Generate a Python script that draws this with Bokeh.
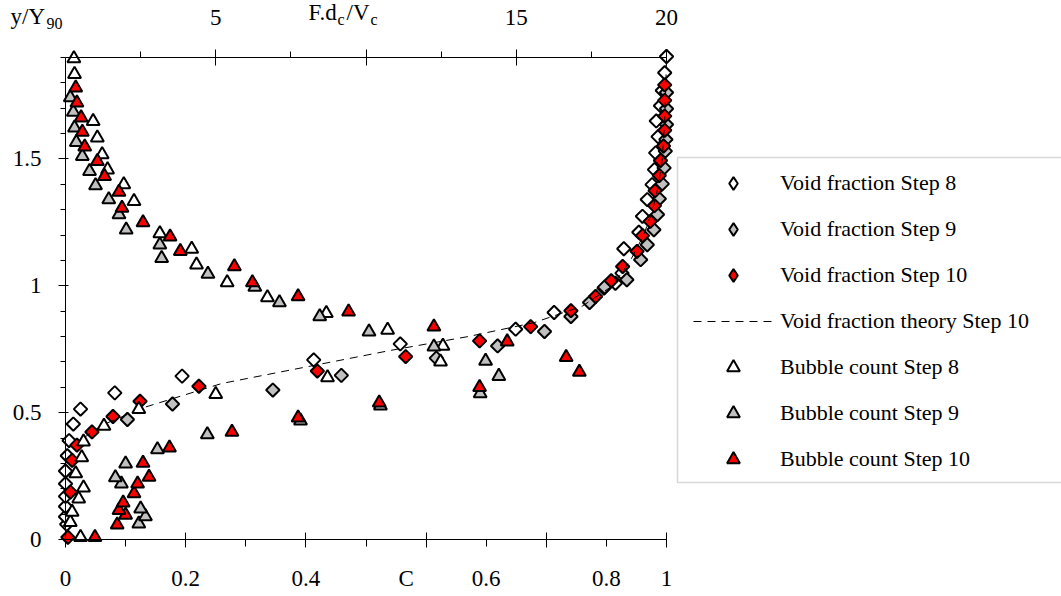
import math
from bokeh.plotting import figure
from bokeh.models import (Range1d, LinearAxis, FixedTicker, CustomJSTickFormatter,
                          NumeralTickFormatter, Legend, LegendItem, Label, PolyAnnotation)
from bokeh.embed import file_html
from bokeh.resources import INLINE

# ---------------- data (C, y/Y90) ----------------
vf8_c = [0.002, 0.0, 0.0, 0.0, 0.0, 0.0, 0.003, 0.006, 0.013, 0.025, 0.082, 0.194, 0.413, 0.557,
         0.749, 0.813, 0.896, 0.915, 0.926, 0.929, 0.954, 0.960, 0.968, 0.976, 0.980, 0.982,
         0.986, 0.983, 0.990, 0.993, 0.997, 1.0]
vf8_y = [0.06, 0.09, 0.13, 0.17, 0.22, 0.27, 0.33, 0.39, 0.455, 0.514, 0.578, 0.644, 0.708, 0.771,
         0.829, 0.895, 0.991, 1.01, 1.05, 1.146, 1.211, 1.274, 1.340, 1.399, 1.458, 1.524,
         1.588, 1.650, 1.71, 1.77, 1.840, 1.904]

vf9_c = [0.103, 0.178, 0.345, 0.459, 0.617, 0.719, 0.797, 0.841, 0.872, 0.897, 0.934, 0.957,
         0.968, 0.979, 0.985, 0.988, 0.993, 0.996, 0.998, 0.999, 1.0, 1.0, 1.0]
vf9_y = [0.473, 0.534, 0.589, 0.647, 0.715, 0.763, 0.820, 0.879, 0.934, 0.995, 1.024, 1.103,
         1.162, 1.221, 1.281, 1.343, 1.402, 1.465, 1.531, 1.577, 1.636, 1.698, 1.762]

vf10_c = [0.004, 0.008, 0.011, 0.019, 0.044, 0.079, 0.124, 0.222, 0.419, 0.566, 0.689, 0.774,
          0.841, 0.882, 0.908, 0.927, 0.951, 0.960, 0.973, 0.980, 0.981, 0.988, 0.990, 0.995,
          0.997, 0.997, 0.997, 0.997]
vf10_y = [0.009, 0.187, 0.312, 0.372, 0.424, 0.485, 0.545, 0.604, 0.664, 0.721, 0.783, 0.839,
          0.902, 0.958, 1.020, 1.076, 1.136, 1.198, 1.254, 1.316, 1.375, 1.435, 1.494, 1.551,
          1.613, 1.669, 1.731, 1.792]

th_c = [0.03, 0.06, 0.13, 0.26, 0.40, 0.54, 0.67, 0.78, 0.86, 0.91, 0.94, 0.962, 0.977, 0.987,
        0.993, 0.997, 0.999, 1.0]
th_y = [0.40, 0.45, 0.52, 0.615, 0.68, 0.745, 0.80, 0.855, 0.92, 1.0, 1.1, 1.2, 1.3, 1.4,
        1.5, 1.65, 1.8, 1.9]

bc8_c = [0.025, 0.008, 0.011, 0.022, 0.030, 0.017, 0.027, 0.030, 0.064, 0.122, 0.250, 0.436,
         0.624, 0.628, 0.536, 0.434, 0.336, 0.269, 0.218, 0.210, 0.157, 0.114, 0.097, 0.070,
         0.061, 0.053, 0.046, 0.015, 0.014]
bc8_y = [0.009, 0.068, 0.108, 0.161, 0.204, 0.260, 0.323, 0.385, 0.447, 0.513, 0.573, 0.639,
         0.701, 0.763, 0.826, 0.892, 0.954, 1.013, 1.083, 1.145, 1.206, 1.333, 1.399, 1.458,
         1.518, 1.584, 1.649, 1.834, 1.896]

bc9_c = [0.122, 0.133, 0.125, 0.093, 0.083, 0.100, 0.153, 0.236, 0.391, 0.524, 0.690, 0.721,
         0.699, 0.613, 0.505, 0.423, 0.356, 0.315, 0.237, 0.160, 0.157, 0.101, 0.089, 0.072,
         0.050, 0.040, 0.028, 0.018, 0.015, 0.013, 0.008]
bc9_y = [0.062, 0.091, 0.121, 0.220, 0.244, 0.299, 0.355, 0.414, 0.468, 0.527, 0.576, 0.644,
         0.704, 0.760, 0.819, 0.879, 0.934, 0.995, 1.047, 1.109, 1.162, 1.221, 1.281, 1.340,
         1.395, 1.452, 1.511, 1.566, 1.623, 1.685, 1.742]

bc10_c = [0.049, 0.086, 0.100, 0.089, 0.096, 0.114, 0.120, 0.139, 0.129, 0.173, 0.277, 0.387,
          0.522, 0.689, 0.855, 0.833, 0.735, 0.613, 0.471, 0.387, 0.311, 0.281, 0.191, 0.174,
          0.129, 0.094, 0.089, 0.065, 0.053, 0.032, 0.028, 0.026, 0.019, 0.017]
bc10_y = [0.009, 0.058, 0.097, 0.115, 0.145, 0.181, 0.220, 0.246, 0.302, 0.362, 0.424, 0.480,
          0.539, 0.600, 0.660, 0.718, 0.780, 0.839, 0.898, 0.958, 1.013, 1.076, 1.136, 1.193,
          1.250, 1.307, 1.370, 1.432, 1.491, 1.548, 1.606, 1.663, 1.722, 1.781]

series_names = ["Void fraction Step 8", "Void fraction Step 9", "Void fraction Step 10",
                "Void fraction theory Step 10", "Bubble count Step 8", "Bubble count Step 9",
                "Bubble count Step 10"]

# tick labels
c_ticks = [0, 0.2, 0.4, 0.6, 0.8, 1.0]
c_tick_labels = ["0", "0.2", "0.4", "", "", "1"]
c_minor = [0.1, 0.3, 0.5, 0.7, 0.9]
c_extra_ticks = [0.7, 0.9]              # in the reference, "0.6" and "0.8" sit here
c_extra_labels = ["0.6", "0.8"]
y_ticks = [0, 0.5, 1.0, 1.5]
y_minor = [round(0.1 * i, 1) for i in range(1, 20)]
f_ticks = [5, 10, 15, 20]
f_tick_labels = ["5", "", "15", "20"]
f_minor = [2.5, 7.5, 12.5, 17.5]

C_MIN, C_MAX = 0.0, 1.0
Y_MIN, Y_MAX = 0.0, 1.9
F_MAX = 20.0

# ---------------- geometry ----------------
FONT = "Liberation Serif"
W, H = 1061, 594
X0, X1 = 65.0, 666.0      # canvas px of C=0 and C=1
YB, YT = 539.0, 57.0      # canvas px of y=0 and y=1.9
kx = (X1 - X0) / (C_MAX - C_MIN)
ky = (YB - YT) / (Y_MAX - Y_MIN)
xr = Range1d(C_MIN - X0 / kx, C_MAX + (W - X1) / kx)
yr = Range1d(Y_MIN - (H - YB) / ky, Y_MAX + YT / ky)

p = figure(width=W, height=H, output_backend="svg", toolbar_location=None,
           x_range=xr, y_range=yr,
           min_border_left=0, min_border_right=0, min_border_top=0, min_border_bottom=0)
p.outline_line_color = None
p.grid.visible = False
p.background_fill_color = "white"
p.border_fill_color = "white"

LOOKUP = """
for (let i = 0; i < t.length; i++) { if (Math.abs(tick - t[i]) < 1e-6) return l[i]; }
return '';
"""

def style_axis(ax):
    ax.axis_line_color = "black"
    ax.axis_line_width = 1
    ax.major_tick_line_color = "black"
    ax.minor_tick_line_color = "black"
    ax.major_label_text_font = FONT
    ax.major_label_text_font_size = "23px"
    ax.major_label_text_color = "black"
    ax.axis_label = None

xa = p.xaxis[0]
style_axis(xa)
xa.fixed_location = Y_MIN
xa.bounds = (C_MIN, C_MAX)
xa.ticker = FixedTicker(ticks=c_ticks, minor_ticks=c_minor)
xa.formatter = CustomJSTickFormatter(args=dict(t=c_ticks, l=c_tick_labels), code=LOOKUP)
xa.major_tick_in = 7
xa.major_tick_out = 8
xa.minor_tick_in = 0
xa.minor_tick_out = 7
xa.major_label_standoff = 23

xb = LinearAxis(fixed_location=Y_MIN, bounds=(C_MIN, C_MAX),
                ticker=FixedTicker(ticks=c_extra_ticks, minor_ticks=[]),
                formatter=CustomJSTickFormatter(args=dict(t=c_extra_ticks, l=c_extra_labels),
                                                code=LOOKUP))
style_axis(xb)
xb.axis_line_color = None
xb.major_tick_line_color = None
xb.minor_tick_line_color = None
xb.major_tick_in = 0
xb.major_tick_out = 8
xb.major_label_standoff = 23
p.add_layout(xb, "below")

ya = p.yaxis[0]
style_axis(ya)
ya.fixed_location = C_MIN
ya.bounds = (Y_MIN, Y_MAX)
ya.ticker = FixedTicker(ticks=y_ticks, minor_ticks=y_minor)
ya.formatter = NumeralTickFormatter(format="0.[0]")
ya.major_tick_in = 3
ya.major_tick_out = 7
ya.minor_tick_in = 0
ya.minor_tick_out = 5
ya.major_label_standoff = 17

p.extra_x_ranges = {"f": Range1d(xr.start * F_MAX, xr.end * F_MAX)}
top = LinearAxis(x_range_name="f", fixed_location=Y_MAX, bounds=(0, F_MAX),
                 ticker=FixedTicker(ticks=f_ticks, minor_ticks=f_minor),
                 formatter=CustomJSTickFormatter(args=dict(t=f_ticks, l=f_tick_labels),
                                                 code=LOOKUP))
style_axis(top)
top.major_tick_in = 8
top.major_tick_out = 8
top.minor_tick_in = 0
top.minor_tick_out = 6
top.major_label_standoff = 25
p.add_layout(top, "above")

# ---------------- glyphs ----------------
ANG = math.pi / 4
DS, TS = 9.5, 13
r_vf8 = p.scatter(vf8_c, vf8_y, marker="square", angle=ANG, size=DS,
                  fill_color="white", line_color="black", line_width=2)
r_vf9 = p.scatter(vf9_c, vf9_y, marker="square", angle=ANG, size=DS,
                  fill_color="#c0c0c0", line_color="black", line_width=2)
r_vf10 = p.scatter(vf10_c, vf10_y, marker="square", angle=ANG, size=DS,
                   fill_color="#ff0000", line_color="black", line_width=2)
r_th = p.line(th_c, th_y, line_color="black", line_width=1, line_dash="8 6")
r_bc8 = p.scatter(bc8_c, bc8_y, marker="triangle", size=TS,
                  fill_color="white", line_color="black", line_width=2)
r_bc9 = p.scatter(bc9_c, bc9_y, marker="triangle", size=TS,
                  fill_color="#c0c0c0", line_color="black", line_width=2)
r_bc10 = p.scatter(bc10_c, bc10_y, marker="triangle", size=TS,
                   fill_color="#ff0000", line_color="black", line_width=2)

# legend swatches for the diamonds (the legend draws markers unrotated);
# a single NaN point keeps them off the plot itself
NAN = float("nan")
def proxy(fill):
    return p.scatter(x=[NAN], y=[NAN], marker="diamond", fill_color=fill,
                     line_color="black", line_width=2)

lg_vf8, lg_vf9, lg_vf10 = proxy("white"), proxy("#c0c0c0"), proxy("#ff0000")

renderers = [lg_vf8, lg_vf9, lg_vf10, r_th, r_bc8, r_bc9, r_bc10]
items = [LegendItem(label=n, renderers=[r]) for n, r in zip(series_names, renderers)]

# canvas px (from top-left) -> frame screen coords (frame == whole canvas)
def sx(px):
    return px
def sy(py):
    return H - py

legend = Legend(items=items, location=(sx(693), sy(482)), glyph_width=80, glyph_height=32,
                label_height=46, spacing=0, padding=0, margin=0, label_standoff=7,
                border_line_alpha=0, background_fill_alpha=0,
                label_text_font=FONT, label_text_font_size="22px", label_text_color="black")
p.add_layout(legend)

# legend frame: its right side runs past the window edge, as in the reference
frame_poly = PolyAnnotation(xs=[sx(2000), sx(677), sx(677), sx(2000)],
                            ys=[sy(157), sy(157), sy(482), sy(482)],
                            xs_units="screen", ys_units="screen", fill_alpha=0,
                            line_color="#7f7f7f", line_width=1.5)
p.add_layout(frame_poly)

# ---------------- axis titles ----------------
def lab(text, px, py, size="23px"):
    p.add_layout(Label(x=sx(px), y=sy(py), x_units="screen", y_units="screen", text=text,
                       text_font=FONT, text_font_size=size, text_color="black",
                       text_align="left", text_baseline="alphabetic"))

lab("y/Y", 10, 16)
lab("90", 46, 23, size="16px")
lab("F.d", 308, 12)
lab("c", 337, 19, size="16px")
lab("/V", 346, 12)
lab("c", 370, 19, size="16px")
lab("C", 398, 578)

open("out.html", "w").write(file_html(p, INLINE))
